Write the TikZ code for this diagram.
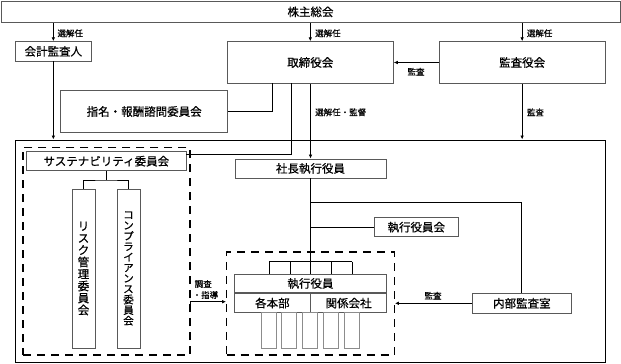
\documentclass[tikz,border=0pt]{standalone}
\usepackage{fontspec}
\setmainfont{Noto Sans CJK JP}[FakeBold=0.6,AutoFakeBold=0.6]
\usetikzlibrary{arrows.meta}
\begin{document}
\begin{tikzpicture}[x=1pt,y=-1pt,
  box/.style={draw=black!65, line width=0.9pt, inner sep=0pt, font=\bfseries\fontsize{11.5}{12}\selectfont},
  thin box/.style={draw=black!45, line width=0.8pt, inner sep=0pt},
  dbox/.style={draw=black, line width=1.2pt, dash pattern=on 8pt off 6pt},
  conn/.style={draw=black, line width=0.9pt},
  arr/.style={conn, -{Latex[length=4pt,width=3.6pt]}},
  lbl/.style={font=\fontsize{8.5}{9}\selectfont, inner sep=0pt},
  vtext/.style={align=center}
]
\useasboundingbox (0,0) rectangle (621,364);
\fill[white] (0,0) rectangle (621,364);

% top level
\node[box, minimum width=619pt, minimum height=21.7pt] (kabu) at (310.5,11.85) {株主総会};
\node[box, minimum width=75.3pt, minimum height=19.3pt] (kaikei) at (53.35,51.35) {会計監査人};
\node[box, minimum width=166pt, minimum height=41.6pt] (tori) at (310.3,62.5) {取締役会};
\node[box, minimum width=166.3pt, minimum height=41.6pt] (kansa) at (522.15,62.5) {監査役会};
\node[box, minimum width=167pt, minimum height=41.6pt] (shimei) at (144.2,111.5) {指名・報酬諮問委員会};

% big frame
\node[draw=black, line width=1pt, inner sep=0pt, minimum width=589.3pt, minimum height=222pt] (big) at (310.35,251) {};

% left dashed group
\node[dbox, inner sep=0pt, minimum width=167pt, minimum height=207.3pt] (dashL) at (106.5,251.35) {};
\node[box, minimum width=159.3pt, minimum height=19pt] (sust) at (106.35,161.2) {サステナビリティ委員会};
\node[box, minimum width=23pt, minimum height=159pt] (risk) at (83.5,268.5) {};
\node[vtext, font=\bfseries\fontsize{11.5}{12}\selectfont] at (risk) {リ\\ス\\ク\\管\\理\\委\\員\\会};
\node[box, minimum width=23pt, minimum height=159pt] (comp) at (128.5,268.5) {};
\node[vtext, font=\bfseries\fontsize{10.5}{10.6}\selectfont] at (comp) {コ\\ン\\プ\\ラ\\イ\\ア\\ン\\ス\\委\\員\\会};

% executive side
\node[box, minimum width=151pt, minimum height=19pt] (shacho) at (310.5,168.5) {社長執行役員};
\node[box, minimum width=84pt, minimum height=19pt] (shikkokai) at (416.3,227.2) {執行役員会};
\node[dbox, inner sep=0pt, minimum width=167.6pt, minimum height=103pt] (dashR) at (310.5,303.5) {};
\node[box, minimum width=152.4pt, minimum height=18.4pt] (shikko) at (310.5,283.5) {執行役員};
\node[box, minimum width=76.2pt, minimum height=19pt, anchor=north west] (honbu) at (shikko.south west) {各本部};
\node[box, minimum width=76.2pt, minimum height=19pt, anchor=north east] (kankei) at (shikko.south east) {関係会社};
\foreach \i/\x in {1/268.5,2/289.3,3/310.2,4/331.1,5/352}{
  \node[thin box, minimum width=15pt, minimum height=36.6pt, anchor=north] (sb\i) at (\x,311.7) {};
}
\node[box, minimum width=98.3pt, minimum height=20pt] (naibu) at (521.85,303.3) {内部監査室};

% connectors from 株主総会
\draw[arr] (kabu.south -| kaikei.north) -- (kaikei.north);
\draw[arr] (kabu.south -| tori.north) -- (tori.north);
\draw[arr] (kabu.south -| kansa.north) -- (kansa.north);
\node[lbl, anchor=west] at (57.3,33.3) {選解任};
\node[lbl, anchor=west] at (315,33.3) {選解任};
\node[lbl, anchor=west] at (526.7,33.3) {選解任};

% 監査役会 -> 取締役会
\draw[arr] (kansa.west) -- (tori.east);
\node[lbl] at (416,71.7) {監査};

% 会計監査人 -> big
\draw[arr] (kaikei.south) -- (kaikei.south |- big.north);
% 監査役会 -> big
\draw[arr] (kansa.south) -- (kansa.south |- big.north);
\node[lbl, anchor=west] at (526.7,112.3) {監査};

% 取締役会 -> 指名
\coordinate (t1) at (272.7,83.3);
\draw[conn] (t1) |- (shimei.east);
% 取締役会 -> サステナビリティ
\coordinate (t2) at (291.7,83.3);
\coordinate (s2) at (186,154.3);
\draw[conn] (t2) |- (s2);
% 取締役会 -> 社長執行役員
\draw[arr] (tori.south -| shacho.north) -- (shacho.north);
\node[lbl, anchor=west] at (315,112.3) {選解任・監督};

% サステナビリティ -> committees
\coordinate (sj) at (106.35,180);
\draw[conn] (sust.south) -- (sj);
\draw[conn] (risk.north) |- (sj) -| (comp.north);

% 調査・指導
\coordinate (c1) at (190,311.7);
\coordinate (c2) at (190,301.7);
\draw[arr] (c1) -- (c2) -- (c2 -| dashR.west);
\node[lbl, anchor=west] at (194.5,284) {調査};
\node[lbl, anchor=west] at (192.5,295) {・指導};

% 社長執行役員 trunk
\coordinate (comb) at (310.5,261.7);
\draw[conn] (shacho.south) -- (comb);
\draw[conn] (269.3,261.7) -- (352.3,261.7);
\foreach \x in {269.3,290,331.7,352.3}{
  \draw[conn] (\x,261.7) -- (\x,274.3);
}
\draw[conn] (comb) -- (shikko.north);
\coordinate (b1) at (310.5,202.3);
\draw[conn] (b1) -| (naibu.north);
\draw[conn] (shikkokai.west -| b1) -- (shikkokai.west);

% 内部監査室 -> dashR
\draw[arr] (naibu.west) -- (naibu.west -| dashR.east);
\node[lbl] at (433,295.7) {監査};
\end{tikzpicture}
\end{document}
